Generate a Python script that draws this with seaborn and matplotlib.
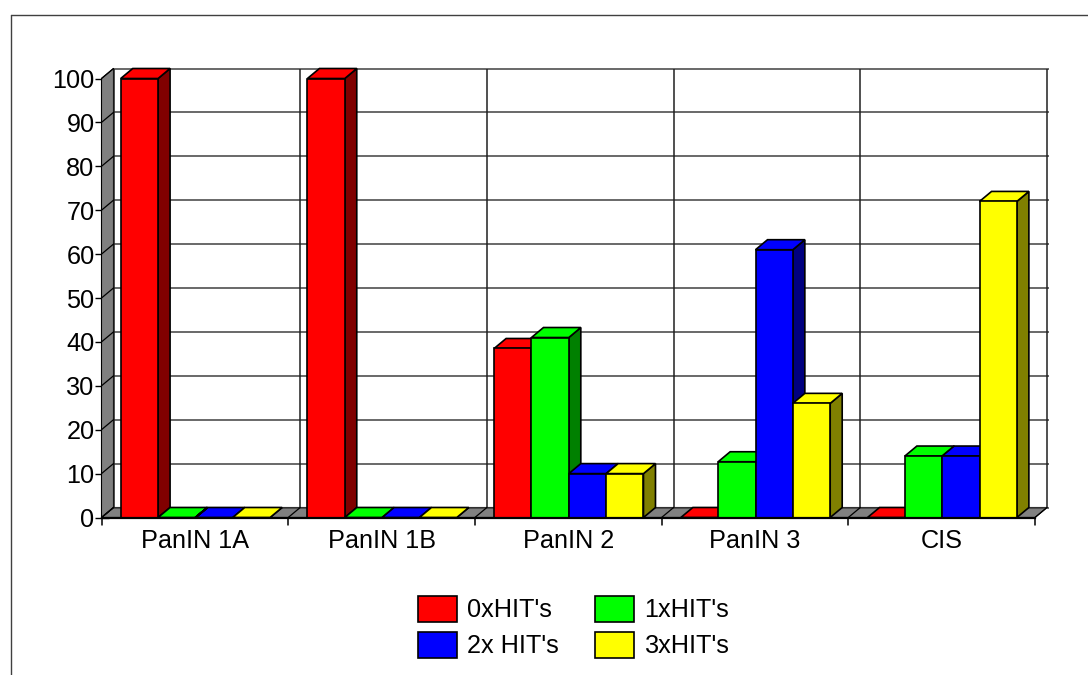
import matplotlib
matplotlib.use("Agg")
import matplotlib.pyplot as plt
from matplotlib.colors import to_rgb
from matplotlib.lines import Line2D
from matplotlib.patches import Polygon, Rectangle
import pandas as pd
import seaborn as sns

# Share of lesions per stage, by number of HITs
stages = ["PanIN 1A", "PanIN 1B", "PanIN 2", "PanIN 3", "CIS"]
series_names = ["0xHIT's", "1xHIT's", "2x HIT's", "3xHIT's"]
hits_0 = [100, 100, 38.5, 0, 0]
hits_1 = [0, 0, 41, 12.7, 14]
hits_2 = [0, 0, 10, 61, 14]
hits_3 = [0, 0, 10, 26, 72]
series_colors = ["#ff0000", "#00ff00", "#0000ff", "#ffff00"]
y_ticks = list(range(0, 101, 10))

W, H = 1088, 675
L, R, B, T = 101.5, 1035.0, 517.5, 78.5
DEPTH_X_PX, DEPTH_Y_PX = 12.0, 10.0
FONT = 18.2

sns.set_theme(style="white", rc={"font.family": ["Liberation Sans", "DejaVu Sans"]})

frame = pd.DataFrame({
    "stage": stages * 4,
    "series": [n for n in series_names for _ in stages],
    "value": hits_0 + hits_1 + hits_2 + hits_3,
})

fig = plt.figure(figsize=(W / 100, H / 100), dpi=100, facecolor="white")
ax = fig.add_axes([L / W, 1 - B / H, (R - L) / W, (B - T) / H])

sns.barplot(
    data=frame, x="stage", y="value", hue="series", order=stages,
    hue_order=series_names, palette=series_colors, width=0.8, gap=0,
    saturation=1, edgecolor="black", linewidth=1.2, errorbar=None, ax=ax,
)
ax.set_xlim(-0.5, len(stages) - 0.5)
ax.set_ylim(0, 100)
ax.set_xlabel("")
ax.set_ylabel("")

dx = DEPTH_X_PX * len(stages) / (R - L)
dy = DEPTH_Y_PX * 100 / (B - T)
x0, x1 = ax.get_xlim()
BAR_NUDGE = 0.003

# Front faces of the bars, left to right
bars = sorted((p for p in ax.patches if isinstance(p, Rectangle)), key=lambda b: b.get_x())


def face(points, color, z, lw=1.2, ec="black"):
    ax.add_patch(Polygon(points, closed=True, facecolor=color, edgecolor=ec,
                         linewidth=lw, zorder=z, clip_on=False))


def shade(color, k=0.5):
    return tuple(c * k for c in to_rgb(color))


# Grey floor and left wall of the 3D box
face([(x0, 0), (x0 + dx, dy), (x1 + dx, dy), (x1, 0)], "#808080", 1, lw=0.8)
face([(x0, 0), (x0 + dx, dy), (x0 + dx, 100 + dy), (x0, 100)], "#808080", 1, lw=0.8)

# Gridlines on the back plane, with their slanted run across the wall
for v in y_ticks:
    ax.plot([x0 + dx, x1 + dx + 0.01], [v + dy, v + dy], color="#404040", lw=1.1,
            zorder=1.5, clip_on=False, solid_capstyle="butt")
    ax.plot([x0, x0 + dx], [v, v + dy], color="black", lw=0.9,
            zorder=1.6, clip_on=False)
for i in range(len(stages) + 1):
    xb = x0 + i
    ax.plot([xb + dx, xb + dx], [dy, 100 + dy], color="#202020", lw=1.1,
            zorder=1.5, clip_on=False, solid_capstyle="butt")
    ax.plot([xb, xb + dx], [0, dy], color="black", lw=0.9,
            zorder=1.6, clip_on=False)

# Top and side faces follow each bar; later bars overlap earlier ones
for n, bar in enumerate(bars):
    z = 3 + n * 0.1
    bar.set_x(bar.get_x() + BAR_NUDGE)
    xa, w, h = bar.get_x(), bar.get_width(), bar.get_height()
    col = bar.get_facecolor()[:3]
    face([(xa + w, 0), (xa + w + dx, dy), (xa + w + dx, h + dy), (xa + w, h)],
         shade(col), z)
    face([(xa, h), (xa + dx, h + dy), (xa + w + dx, h + dy), (xa + w, h)], col, z)
    bar.set_zorder(z + 0.05)
    bar.set_clip_on(False)

sns.despine(ax=ax, top=True, right=True)
ax.spines["left"].set_visible(False)
ax.spines["bottom"].set_linewidth(1.6)
ax.spines["bottom"].set_color("black")
ax.spines["bottom"].set_zorder(6)

ax.set_yticks(y_ticks)
ax.tick_params(axis="y", left=True, direction="inout", length=10, width=1.0,
               color="black", labelsize=FONT, labelcolor="black", pad=0)
ax.tick_params(axis="x", bottom=False, labelsize=FONT, labelcolor="black", pad=2)
for i in range(len(stages) + 1):
    ax.plot([x0 + i, x0 + i], [0, -1.6], color="black", lw=1.1, zorder=6, clip_on=False)

# Legend laid out row by row
handles, labels = ax.get_legend_handles_labels()
order = [0, 2, 1, 3]
legend = ax.legend(
    [handles[i] for i in order], [labels[i] for i in order], ncol=2, frameon=False,
    loc="center", bbox_to_anchor=(573.5 / W, 1 - 627 / H), bbox_transform=fig.transFigure,
    fontsize=FONT, handlelength=1.55, handleheight=1.2, handletextpad=0.4,
    columnspacing=1.45, labelspacing=0.37, borderpad=0, labelcolor="black",
)

# Thin page frame along the top and left edges
frame_color = "#404040"
fig.add_artist(Line2D([11 / W, 11 / W], [0, 1 - 15 / H], color=frame_color, lw=1.0))
fig.add_artist(Line2D([11 / W, 1], [1 - 15 / H, 1 - 15 / H], color=frame_color, lw=1.0))

fig.savefig("out.png", dpi=100, facecolor="white")
